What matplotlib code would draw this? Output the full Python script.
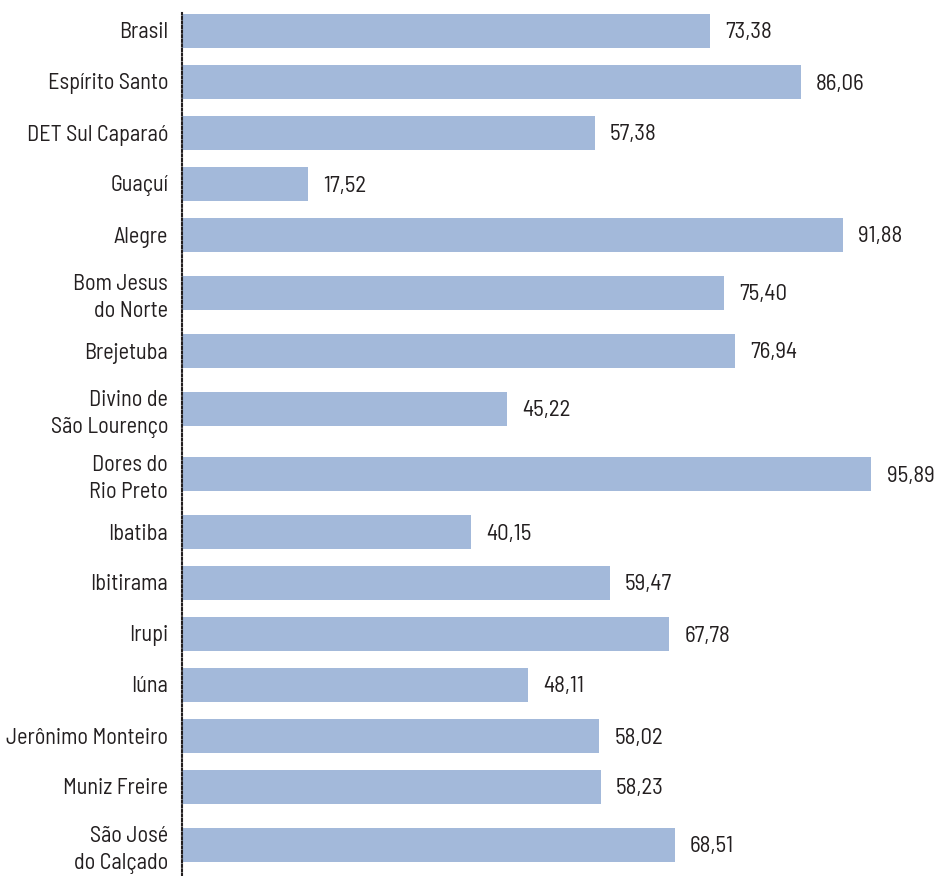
import matplotlib.pyplot as plt

plt.rcParams['font.family'] = ['Barlow Semi Condensed', 'DejaVu Sans']
plt.rcParams['font.weight'] = 400

# dados
municipios = [
    'Brasil', 'Espírito Santo', 'DET Sul Caparaó', 'Guaçuí', 'Alegre',
    'Bom Jesus\ndo Norte', 'Brejetuba', 'Divino de\nSão Lourenço',
    'Dores do\nRio Preto', 'Ibatiba', 'Ibitirama', 'Irupi', 'Iúna',
    'Jerônimo Monteiro', 'Muniz Freire', 'São José\ndo Calçado',
]
valores = [73.38, 86.06, 57.38, 17.52, 91.88, 75.40, 76.94, 45.22,
           95.89, 40.15, 59.47, 67.78, 48.11, 58.02, 58.23, 68.51]

BAR_COLOR = '#a3b9da'
TEXT_COLOR = '#231f20'

# posições verticais: rótulos de duas linhas ganham mais espaço
STEP = 51.0
EXTRA = 7.0
pos = [30.5]
for prev, cur in zip(municipios[:-1], municipios[1:]):
    gap = STEP
    if '\n' in prev:
        gap += EXTRA
    if '\n' in cur:
        gap += EXTRA
    pos.append(pos[-1] + gap)

W, H = 942, 876
fig = plt.figure(figsize=(W / 100, H / 100), dpi=100)
ax = fig.add_axes([182 / W, 0, 1 - 182 / W, 1])

ax.barh(pos, valores, height=34, color=BAR_COLOR, left=0)

for y, v in zip(pos, valores):
    ax.annotate(f'{v:.2f}'.replace('.', ','), xy=(v, y), xytext=(11, 0),
                textcoords='offset points', va='center_baseline', ha='left',
                fontsize=16.5, color=TEXT_COLOR)

ax.set_xlim(0, 760 / 7.19)
ax.set_ylim(H, 0)
ax.set_yticks(pos)
ax.set_yticklabels(municipios, fontsize=16, color=TEXT_COLOR, linespacing=1.4,
                   va='center_baseline')
ax.tick_params(axis='y', length=0, pad=10)
ax.set_xticks([])

for s in ['top', 'right', 'bottom']:
    ax.spines[s].set_visible(False)
ax.spines['left'].set_linestyle((0, (1, 1.2)))
ax.spines['left'].set_linewidth(1.5)
ax.spines['left'].set_color(TEXT_COLOR)
ax.spines['left'].set_bounds(H, 13)

fig.savefig('out.png', dpi=100, facecolor='white')
